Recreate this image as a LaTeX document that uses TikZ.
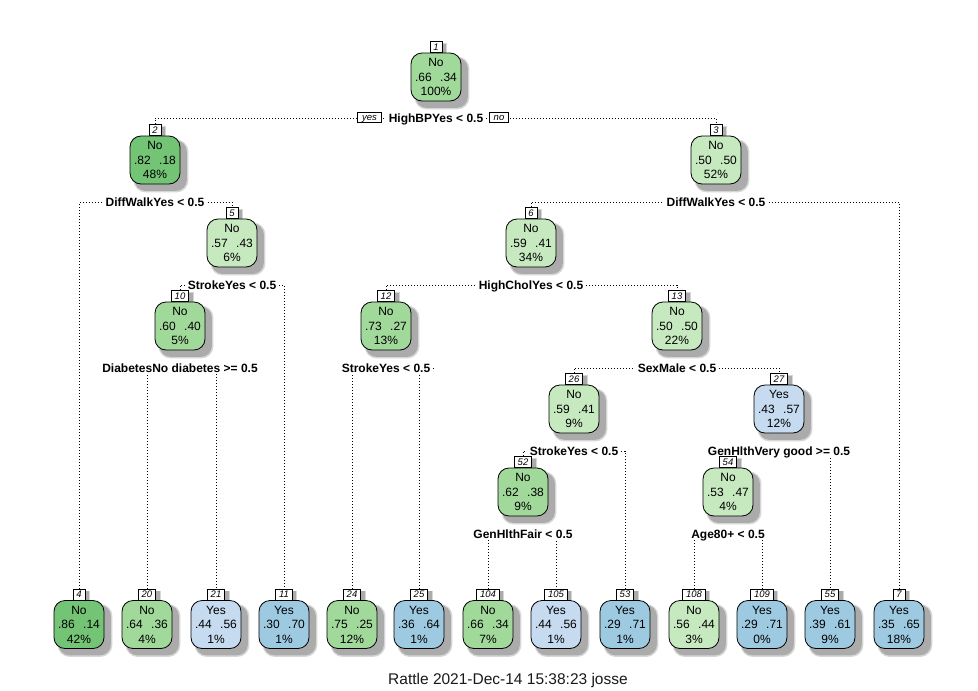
\documentclass[tikz,border=0pt]{standalone}
\usepackage{fontspec}
\setmainfont{Liberation Sans}

\pgfdeclarelayer{paper}
\pgfdeclarelayer{links}
\pgfdeclarelayer{shadowlayer}
\pgfsetlayers{paper,links,shadowlayer,main}

% node fills: shades of green for "No", blue for "Yes"
\definecolor{gDark}{HTML}{74C476}
\definecolor{gMid}{HTML}{A1D99B}
\definecolor{gLight}{HTML}{C7E9C0}
\definecolor{bLight}{HTML}{C6DBEF}
\definecolor{bMid}{HTML}{9ECAE1}
\definecolor{shadowsoft}{HTML}{D6D6D6}
\definecolor{shadowgray}{HTML}{ABABAB}

\tikzset{
  treebox/.style={draw=black, line width=0.8pt, rounded corners=11pt,
    minimum width=50pt, minimum height=48pt, inner sep=1pt, align=center,
    font=\fontsize{12}{14.5}\selectfont},
  tagbox/.style={draw=black, line width=0.6pt, fill=white,
    minimum width=12pt, minimum height=11pt, inner xsep=3.5pt, inner ysep=0pt,
    font=\fontsize{9.5}{9.5}\selectfont\itshape},
  splitlabel/.style={fill=white, inner xsep=3pt, inner ysep=1pt,
    text height=8.6pt, text depth=0pt,
    font=\fontsize{12}{14}\selectfont\bfseries},
  dirbox/.style={draw=black, line width=0.6pt, fill=white,
    font=\fontsize{9.5}{9.5}\selectfont\itshape, inner xsep=4.5pt, inner ysep=0pt,
    minimum height=10pt, text height=6.5pt, text depth=0pt},
  link/.style={line width=0.75pt, dash pattern=on 0.75pt off 2.25pt},
}

% #1 id, #2 x, #3 y, #4 fill, #5 class, #6 left prob, #7 right prob, #8 percent
\newcommand\treenode[8]{%
  \node[treebox, fill=#4] (n#1) at (#2,#3) {#5\\#6\hspace{0.7em}#7\\#8};
  \node[tagbox, anchor=south] (t#1) at (n#1.north) {#1};
  \begin{pgfonlayer}{shadowlayer}
    \fill[shadowsoft, rounded corners=12pt]
      ([shift={(4,4)}]n#1.north west) rectangle ([shift={(8,8)}]n#1.south east);
    \fill[shadowgray, rounded corners=11pt]
      ([shift={(5,5)}]n#1.north west) rectangle ([shift={(6.5,6.5)}]n#1.south east);
    \fill[shadowsoft]
      ([shift={(2,2)}]t#1.north west) rectangle ([shift={(4.5,4.5)}]t#1.south east);
    \fill[shadowgray]
      ([shift={(2.5,2.5)}]t#1.north west) rectangle ([shift={(3.5,3.5)}]t#1.south east);
  \end{pgfonlayer}
}

\begin{document}
\begin{tikzpicture}[x=1pt, y=-1pt]
  \begin{pgfonlayer}{paper}
    \fill[white] (0,0) rectangle (978,691);
  \end{pgfonlayer}
  \useasboundingbox (0,0) rectangle (978,691);

  % inner nodes
  \treenode{1}{436}{77}{gMid}{No}{.66}{.34}{100\%}
  \treenode{2}{155}{160}{gDark}{No}{.82}{.18}{48\%}
  \treenode{3}{716}{160}{gLight}{No}{.50}{.50}{52\%}
  \treenode{5}{232}{243}{gLight}{No}{.57}{.43}{6\%}
  \treenode{6}{531}{243}{gLight}{No}{.59}{.41}{34\%}
  \treenode{10}{180}{326}{gMid}{No}{.60}{.40}{5\%}
  \treenode{12}{386}{326}{gMid}{No}{.73}{.27}{13\%}
  \treenode{13}{677}{326}{gLight}{No}{.50}{.50}{22\%}
  \treenode{26}{574}{409}{gLight}{No}{.59}{.41}{9\%}
  \treenode{27}{779}{409}{bLight}{Yes}{.43}{.57}{12\%}
  \treenode{52}{523}{492}{gMid}{No}{.62}{.38}{9\%}
  \treenode{54}{728}{492}{gLight}{No}{.53}{.47}{4\%}

  % leaves
  \treenode{4}{79}{624.5}{gDark}{No}{.86}{.14}{42\%}
  \treenode{20}{147}{624.5}{gMid}{No}{.64}{.36}{4\%}
  \treenode{21}{216}{624.5}{bLight}{Yes}{.44}{.56}{1\%}
  \treenode{11}{284}{624.5}{bMid}{Yes}{.30}{.70}{1\%}
  \treenode{24}{352}{624.5}{gMid}{No}{.75}{.25}{12\%}
  \treenode{25}{419}{624.5}{bMid}{Yes}{.36}{.64}{1\%}
  \treenode{104}{488}{624.5}{gMid}{No}{.66}{.34}{7\%}
  \treenode{105}{556}{624.5}{bLight}{Yes}{.44}{.56}{1\%}
  \treenode{53}{625}{624.5}{bMid}{Yes}{.29}{.71}{1\%}
  \treenode{108}{694}{624.5}{gLight}{No}{.56}{.44}{3\%}
  \treenode{109}{762}{624.5}{bMid}{Yes}{.29}{.71}{0\%}
  \treenode{55}{830}{624.5}{bMid}{Yes}{.39}{.61}{9\%}
  \treenode{7}{899}{624.5}{bMid}{Yes}{.35}{.65}{18\%}

  % split labels
  \node[splitlabel] (s1) at (436,118) {HighBPYes < 0.5};
  \node[dirbox] (yes) at (369.5,117.5) {yes};
  \node[dirbox] (no) at (499,117.5) {no};
  \node[splitlabel] (s2) at (155,202) {DiffWalkYes < 0.5};
  \node[splitlabel] (s3) at (716,202) {DiffWalkYes < 0.5};
  \node[splitlabel] (s5) at (232,285) {StrokeYes < 0.5};
  \node[splitlabel] (s6) at (531,285) {HighCholYes < 0.5};
  \node[splitlabel] (s10) at (180,368) {DiabetesNo diabetes >= 0.5};
  \node[splitlabel] (s12) at (386,368) {StrokeYes < 0.5};
  \node[splitlabel] (s13) at (677,368) {SexMale < 0.5};
  \node[splitlabel] (s26) at (574,451) {StrokeYes < 0.5};
  \node[splitlabel] (s27) at (779,451) {GenHlthVery good >= 0.5};
  \node[splitlabel] (s52) at (523,534) {GenHlthFair < 0.5};
  \node[splitlabel] (s54) at (728,534) {Age80+ < 0.5};

  % dotted branches, kept under the labels
  \begin{pgfonlayer}{links}
    \draw[link] (t2.north) |- (s1) -| (t3.north);
    \draw[link] (t4.north) |- (s2) -| (t5.north);
    \draw[link] (t6.north) |- (s3) -| (t7.north);
    \draw[link] (t10.north) |- (s5) -| (t11.north);
    \draw[link] (t12.north) |- (s6) -| (t13.north);
    \draw[link] (t20.north) |- (s10) -| (t21.north);
    \draw[link] (t24.north) |- (s12) -| (t25.north);
    \draw[link] (t26.north) |- (s13) -| (t27.north);
    \draw[link] (t52.north) |- (s26) -| (t53.north);
    \draw[link] (t54.north) |- (s27) -| (t55.north);
    \draw[link] (t104.north) |- (s52) -| (t105.north);
    \draw[link] (t108.north) |- (s54) -| (t109.north);
  \end{pgfonlayer}

  \node[font=\fontsize{15.5}{18}\selectfont, text=black!90] (footer) at (508,680)
    {Rattle 2021-Dec-14 15:38:23 josse};
\end{tikzpicture}
\end{document}
